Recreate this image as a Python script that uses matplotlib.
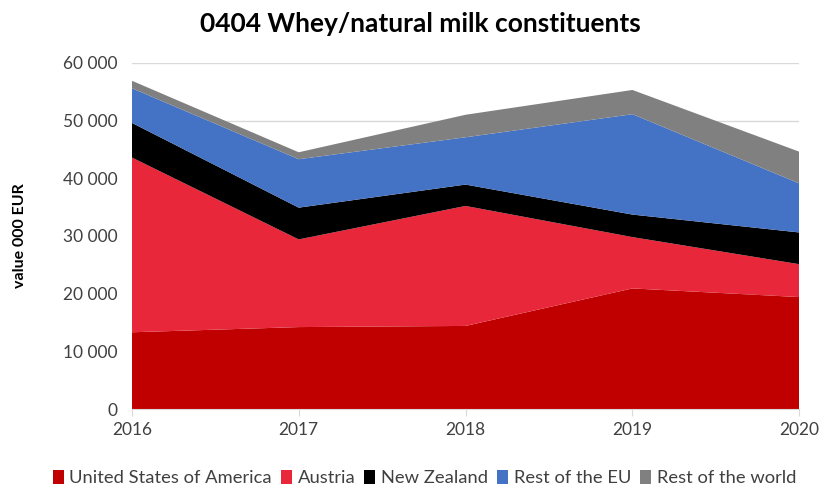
import numpy as np
import matplotlib.pyplot as plt

years = [2016, 2017, 2018, 2019, 2020]
usa = [13300, 14200, 14400, 20900, 19400]
austria = [30300, 15200, 20800, 8900, 5700]
new_zealand = [6000, 5500, 3700, 3900, 5500]
rest_eu = [6000, 8400, 8200, 17400, 8500]
rest_world = [1300, 1200, 3900, 4200, 5500]

labels = ["United States of America", "Austria", "New Zealand", "Rest of the EU", "Rest of the world"]
colors = ["#C00000", "#E8283A", "#000000", "#4472C4", "#808080"]

plt.rcParams['font.family'] = ['Lato', 'DejaVu Sans']

fig = plt.figure(figsize=(8.24, 4.91), dpi=100)
ax = fig.add_axes([0.160, 0.167, 0.810, 0.705])

ax.stackplot(years, usa, austria, new_zealand, rest_eu, rest_world,
             colors=colors, labels=labels, linewidth=0)

ax.set_xlim(2016, 2020)
ax.set_ylim(0, 60000)
ax.set_yticks(np.arange(0, 60001, 10000))
ax.set_yticklabels([f"{v:,}".replace(",", " ") for v in range(0, 60001, 10000)])
ax.set_xticks(years)
ax.grid(axis='y', color='#D9D9D9', linewidth=1)
ax.set_axisbelow(True)
for s in ['top', 'right', 'left']:
    ax.spines[s].set_visible(False)
ax.spines['bottom'].set_color('#D9D9D9')
ax.tick_params(axis='y', length=0, labelsize=12.5, colors='#404040', pad=10)
ax.tick_params(axis='x', length=5, color='#D9D9D9', labelsize=12.5, colors='#404040', pad=4)

ax.set_ylabel("value 000 EUR", fontsize=11.5, fontweight='bold')
ax.yaxis.set_label_coords(-0.157, 0.5)
fig.text(0.51, 0.952, "0404 Whey/natural milk constituents", ha='center', va='center',
         fontsize=19, fontweight='bold')

fig.legend(loc='center', bbox_to_anchor=(0.515, 0.027), ncol=5, frameon=False,
           fontsize=13.2, handlelength=0.6, handleheight=0.8, handletextpad=0.3,
           columnspacing=0.5, labelcolor='#404040')

fig.savefig('out.png', dpi=100)
